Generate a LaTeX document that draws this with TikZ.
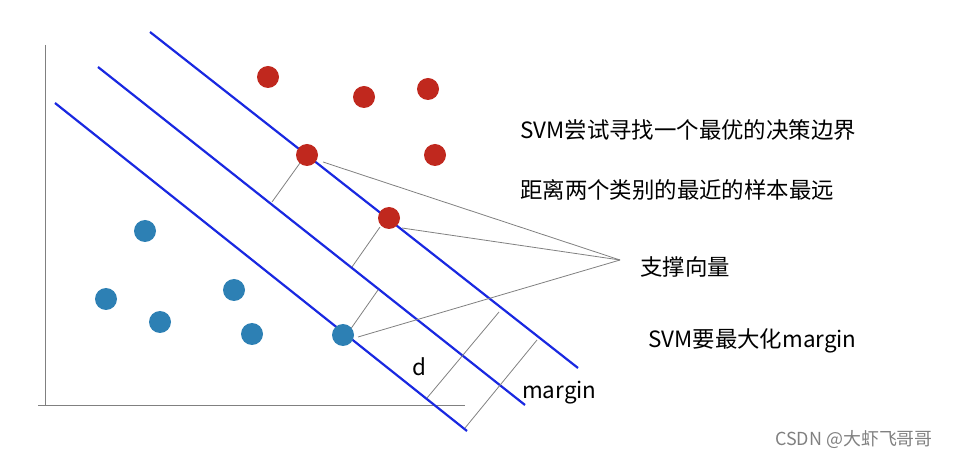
\documentclass[tikz,border=0pt]{standalone}
\usepackage{fontspec}
\setmainfont{Liberation Sans}
\newfontfamily\cjk{Noto Sans CJK SC}
\definecolor{dotred}{RGB}{192,40,30}
\definecolor{dotblue}{RGB}{45,128,180}
\definecolor{lineblue}{RGB}{25,40,225}
\begin{document}
\begin{tikzpicture}[x=1bp,y=-1bp,
  hp/.style={draw=lineblue,line width=2.2bp},
  gl/.style={draw=gray,line width=0.8bp},
  rd/.style={circle,fill=dotred,minimum size=22bp,inner sep=0},
  bd/.style={circle,fill=dotblue,minimum size=22bp,inner sep=0},
  lbl/.style={anchor=west,font=\cjk\fontsize{22.5}{26}\selectfont,inner sep=0}]
\useasboundingbox (0,0) rectangle (961,459);
% axes
\draw[gl] (45,45) -- (45,405);
\draw[gl] (38,405) -- (465,405);
% hyperplanes
\coordinate (a1) at (55,103); \coordinate (b1) at (467,431);
\coordinate (a2) at (98,67); \coordinate (b2) at (525,405);
\coordinate (a3) at (150,32); \coordinate (b3) at (578,368);
\draw[hp] (a1) -- (b1); \draw[hp] (a2) -- (b2); \draw[hp] (a3) -- (b3);
% perpendiculars
\draw[gl] (300,163) -- (272,202);
\draw[gl] (380,227) -- (352,267);
\draw[gl] (350,330) -- (378,290);
\draw[gl] (499,312) -- (427,398);
\draw[gl] (537,340) -- (465,428);
% dots
\foreach \p/\n in {(268,77)/r1,(364,97)/r2,(428,89)/r3,(435,155)/r4,(307,155)/s1,(389,218)/s2}
  \node[rd] (\n) at \p {};
\foreach \p/\n in {(145,231)/u1,(106,299)/u2,(160,322)/u3,(234,290)/u4,(252,334)/u5,(343,335)/s3}
  \node[bd] (\n) at \p {};
\coordinate (tip) at (620,260);
\draw[gl] (323,162) -- (tip);
\draw[gl] (402,228) -- (tip);
\draw[gl] (358,337) -- (tip);
% texts
\node[lbl] (t1) at (520,130) {SVM尝试寻找一个最优的决策边界};
\node[lbl] (t2) at (520,190) {距离两个类别的最近的样本最远};
\node[lbl] (t3) at (640,267) {支撑向量};
\node[lbl] (t4) at (648,341) {SVM要最大化margin};
\node[lbl] (d) at (412,367) {d};
\node[lbl] (m) at (522,393) {margin};
\node[anchor=west,font=\cjk\fontsize{18}{21}\selectfont,text=gray,inner sep=0] (c) at (775,440) {CSDN @大虾飞哥哥};
\end{tikzpicture}
\end{document}
